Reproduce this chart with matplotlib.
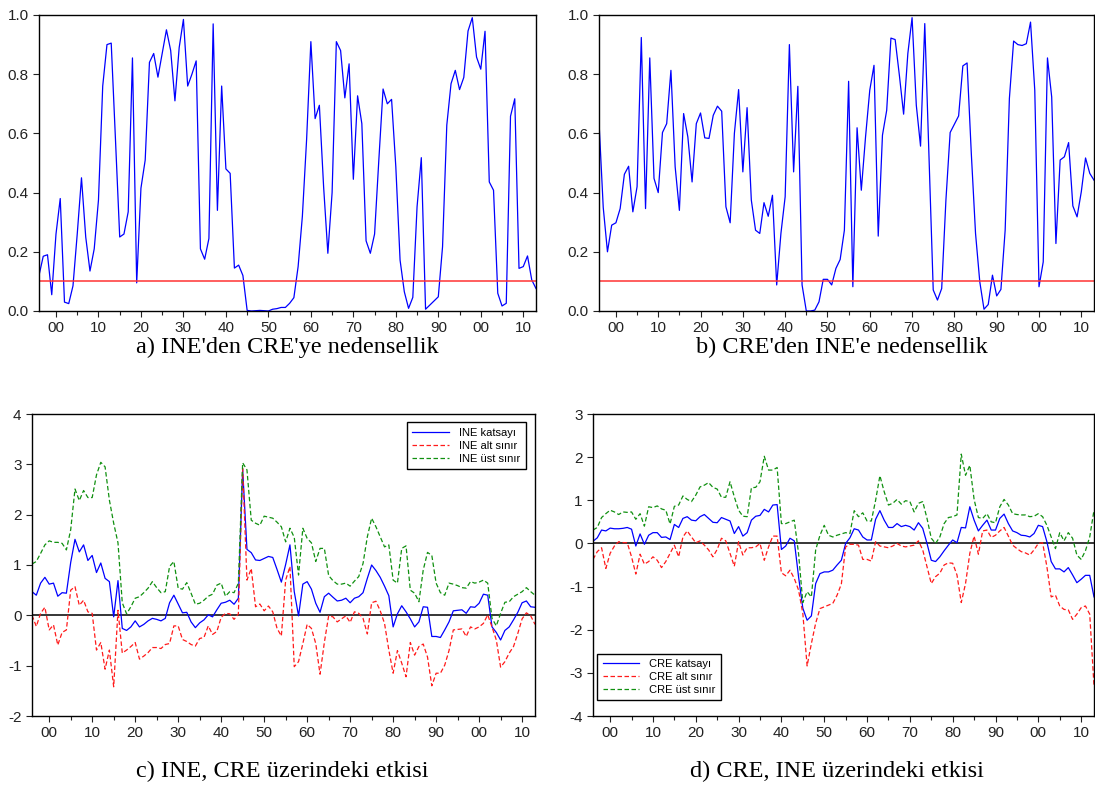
import matplotlib
matplotlib.use('Agg')
import matplotlib.pyplot as plt
import numpy as np
from matplotlib.ticker import MultipleLocator, FuncFormatter

years = np.arange(1896, 2014)

# rolling p-values of the causality tests
ine_to_cre = [
    0.12, 0.185, 0.19, 0.055, 0.26, 0.38, 0.03, 0.025, 0.085, 0.26,
    0.45, 0.25, 0.135, 0.21, 0.375, 0.76, 0.90, 0.905, 0.58, 0.25,
    0.26, 0.335, 0.855, 0.095, 0.415, 0.51, 0.84, 0.87, 0.79, 0.87,
    0.95, 0.88, 0.71, 0.89, 0.985, 0.76, 0.80, 0.845, 0.21, 0.175,
    0.245, 0.97, 0.34, 0.76, 0.48, 0.465, 0.145, 0.155, 0.12, 0.002,
    0.0, 0.001, 0.002, 0.001, 0.0, 0.006, 0.008, 0.012, 0.012, 0.026,
    0.045, 0.15, 0.32, 0.58, 0.91, 0.65, 0.695, 0.42, 0.195, 0.40,
    0.91, 0.88, 0.72, 0.835, 0.445, 0.727, 0.633, 0.237, 0.195, 0.26,
    0.51, 0.75, 0.70, 0.715, 0.487, 0.172, 0.065, 0.009, 0.046, 0.352,
    0.518, 0.006, 0.02, 0.034, 0.048, 0.217, 0.628, 0.768, 0.813, 0.748,
    0.789, 0.946, 0.991, 0.858, 0.817, 0.945, 0.436, 0.408, 0.06, 0.017,
    0.026, 0.658, 0.717, 0.144, 0.15, 0.186, 0.105, 0.076]

cre_to_ine = [
    0.64, 0.35, 0.20, 0.29, 0.298, 0.346, 0.462, 0.489, 0.335, 0.42,
    0.924, 0.346, 0.855, 0.448, 0.40, 0.603, 0.633, 0.813, 0.487, 0.34,
    0.667, 0.588, 0.436, 0.633, 0.669, 0.585, 0.583, 0.661, 0.692, 0.675,
    0.352, 0.298, 0.60, 0.748, 0.47, 0.687, 0.375, 0.273, 0.262, 0.366,
    0.32, 0.391, 0.088, 0.262, 0.386, 0.90, 0.47, 0.759, 0.088, 0.0,
    0.0, 0.003, 0.031, 0.107, 0.107, 0.088, 0.144, 0.174, 0.273, 0.776,
    0.082, 0.619, 0.408, 0.588, 0.746, 0.830, 0.253, 0.594, 0.678, 0.922,
    0.917, 0.796, 0.665, 0.870, 0.991, 0.695, 0.557, 0.971, 0.521, 0.071,
    0.037, 0.076, 0.375, 0.603, 0.631, 0.659, 0.828, 0.838, 0.532, 0.262,
    0.099, 0.006, 0.022, 0.121, 0.051, 0.073, 0.273, 0.718, 0.912, 0.900,
    0.897, 0.903, 0.976, 0.746, 0.082, 0.166, 0.855, 0.723, 0.228, 0.510,
    0.521, 0.569, 0.355, 0.318, 0.403, 0.517, 0.465, 0.442]

# time-varying coefficients with bands
ine_coef = [
    0.47, 0.40, 0.64, 0.755, 0.62, 0.64, 0.38, 0.45, 0.44, 1.05,
    1.51, 1.26, 1.40, 1.09, 1.19, 0.85, 1.04, 0.735, 0.67, -0.03,
    0.69, -0.26, -0.30, -0.23, -0.11, -0.23, -0.18, -0.11, -0.06, -0.08,
    -0.11, -0.06, 0.25, 0.40, 0.225, 0.05, 0.06, -0.13, -0.245, -0.15,
    -0.09, 0.01, -0.03, 0.11, 0.24, 0.26, 0.30, 0.22, 0.34, 2.9,
    1.31, 1.245, 1.10, 1.09, 1.13, 1.17, 1.15, 0.91, 0.66, 1.01,
    1.40, 0.47, -0.01, 0.62, 0.67, 0.52, 0.24, 0.06, 0.37, 0.44,
    0.36, 0.285, 0.30, 0.34, 0.25, 0.34, 0.37, 0.45, 0.735, 1.00,
    0.89, 0.755, 0.58, 0.39, -0.23, 0.03, 0.19, 0.07, -0.07, -0.23,
    -0.13, 0.17, 0.16, -0.42, -0.42, -0.44, -0.29, -0.13, 0.09, 0.10,
    0.11, 0.04, 0.17, 0.16, 0.24, 0.42, 0.40, -0.23, -0.34, -0.49,
    -0.30, -0.23, -0.09, 0.06, 0.25, 0.285, 0.17, 0.16]

ine_lower = [
    0.0, -0.22, 0.04, 0.16, -0.29, -0.19, -0.59, -0.34, -0.29, 0.50,
    0.57, 0.20, 0.30, 0.07, 0.04, -0.69, -0.54, -1.07, -0.69, -1.42,
    0.10, -0.75, -0.69, -0.62, -0.54, -0.87, -0.81, -0.74, -0.64, -0.64,
    -0.66, -0.58, -0.56, -0.21, -0.21, -0.48, -0.52, -0.58, -0.61, -0.46,
    -0.44, -0.21, -0.38, -0.32, -0.04, 0.04, 0.03, -0.08, 0.03, 2.92,
    0.70, 0.93, 0.17, 0.225, 0.09, 0.185, 0.07, -0.26, -0.41, 0.70,
    0.97, -1.02, -0.92, -0.56, -0.18, -0.26, -0.56, -1.17, -0.54, -0.01,
    -0.03, -0.13, -0.07, -0.01, -0.14, 0.07, 0.04, -0.06, -0.37, 0.25,
    0.28, 0.09, -0.16, -0.69, -1.15, -0.70, -0.95, -1.22, -0.54, -0.79,
    -0.62, -0.57, -0.83, -1.40, -1.15, -1.15, -0.99, -0.70, -0.29, -0.28,
    -0.27, -0.42, -0.23, -0.27, -0.23, -0.16, 0.01, -0.23, -0.49, -1.03,
    -0.92, -0.75, -0.62, -0.36, -0.07, 0.05, -0.01, -0.18]

ine_upper = [
    1.02, 1.07, 1.23, 1.40, 1.48, 1.45, 1.45, 1.43, 1.30, 1.70,
    2.51, 2.28, 2.48, 2.34, 2.34, 2.79, 3.04, 2.95, 2.29, 1.83,
    1.44, 0.25, 0.03, 0.17, 0.34, 0.37, 0.45, 0.54, 0.67, 0.55,
    0.45, 0.47, 0.97, 1.07, 0.54, 0.52, 0.65, 0.44, 0.22, 0.24,
    0.30, 0.38, 0.42, 0.60, 0.64, 0.38, 0.47, 0.45, 0.64, 3.03,
    2.89, 1.89, 1.83, 1.79, 1.97, 1.95, 1.93, 1.85, 1.76, 1.46,
    1.73, 1.55, 0.80, 1.73, 1.53, 1.44, 1.07, 1.33, 1.33, 0.79,
    0.69, 0.62, 0.62, 0.64, 0.58, 0.68, 0.77, 1.03, 1.56, 1.93,
    1.76, 1.56, 1.36, 1.40, 0.70, 0.64, 1.33, 1.38, 0.50, 0.44,
    0.27, 0.90, 1.25, 1.19, 0.64, 0.45, 0.40, 0.64, 0.62, 0.59,
    0.55, 0.54, 0.67, 0.64, 0.66, 0.70, 0.64, -0.06, -0.21, 0.04,
    0.26, 0.27, 0.37, 0.42, 0.47, 0.55, 0.47, 0.40]

cre_coef = [
    0.05, 0.13, 0.31, 0.29, 0.355, 0.34, 0.34, 0.35, 0.37, 0.33,
    -0.06, 0.22, -0.02, 0.19, 0.25, 0.25, 0.14, 0.15, 0.09, 0.44,
    0.37, 0.58, 0.62, 0.54, 0.525, 0.62, 0.67, 0.58, 0.49, 0.48,
    0.60, 0.56, 0.52, 0.23, 0.39, 0.17, 0.25, 0.54, 0.63, 0.65,
    0.79, 0.73, 0.89, 0.90, -0.14, -0.06, 0.12, 0.06, -0.77, -1.5,
    -1.78, -1.68, -0.93, -0.70, -0.66, -0.66, -0.62, -0.50, -0.39, 0.0,
    0.13, 0.34, 0.31, 0.15, 0.08, 0.08, 0.56, 0.76, 0.54, 0.37,
    0.37, 0.46, 0.39, 0.42, 0.39, 0.31, 0.48, 0.35, 0.0, -0.39,
    -0.42, -0.31, -0.17, -0.04, 0.08, 0.015, 0.37, 0.36, 0.85, 0.54,
    0.29, 0.42, 0.54, 0.31, 0.31, 0.58, 0.68, 0.46, 0.29, 0.25,
    0.19, 0.18, 0.15, 0.23, 0.42, 0.39, 0.04, -0.42, -0.59, -0.59,
    -0.66, -0.56, -0.73, -0.91, -0.83, -0.74, -0.74, -1.24]

cre_lower = [
    -0.37, -0.19, -0.10, -0.58, -0.23, -0.06, 0.04, 0.02, 0.015, -0.31,
    -0.71, -0.25, -0.48, -0.42, -0.31, -0.39, -0.56, -0.42, -0.23, -0.04,
    -0.31, 0.15, 0.29, 0.15, 0.015, 0.06, -0.04, -0.15, -0.31, -0.14,
    0.12, 0.06, -0.23, -0.53, 0.04, -0.27, -0.10, -0.10, -0.08, 0.0,
    -0.39, -0.08, 0.17, 0.17, -0.68, -0.75, -0.62, -0.81, -1.08, -1.62,
    -2.84, -2.32, -1.85, -1.51, -1.47, -1.43, -1.39, -1.20, -0.94, -0.08,
    -0.02, -0.02, -0.04, -0.37, -0.37, -0.41, 0.04, -0.06, -0.08, -0.10,
    -0.06, 0.0, -0.06, -0.08, -0.06, -0.04, 0.06, -0.15, -0.54, -0.93,
    -0.77, -0.69, -0.50, -0.45, -0.46, -0.73, -1.37, -0.93, -0.23, 0.17,
    -0.25, 0.29, 0.31, 0.14, 0.19, 0.29, 0.37, 0.17, -0.04, -0.12,
    -0.19, -0.22, -0.27, -0.15, 0.0, 0.015, -0.54, -1.24, -1.20, -1.45,
    -1.53, -1.54, -1.76, -1.64, -1.49, -1.45, -1.64, -3.30]

cre_upper = [
    0.31, 0.37, 0.60, 0.69, 0.77, 0.73, 0.67, 0.73, 0.72, 0.73,
    0.56, 0.69, 0.40, 0.85, 0.83, 0.87, 0.80, 0.77, 0.45, 0.86,
    0.89, 1.10, 1.02, 0.97, 1.12, 1.31, 1.35, 1.41, 1.30, 1.26,
    1.07, 1.07, 1.43, 1.08, 0.77, 0.63, 0.62, 1.29, 1.30, 1.43,
    2.02, 1.70, 1.70, 1.76, 0.46, 0.46, 0.50, 0.54, -0.23, -1.37,
    -1.12, -1.24, -0.15, 0.19, 0.42, 0.19, 0.15, 0.19, 0.22, 0.25,
    0.23, 0.76, 0.62, 0.71, 0.52, 0.52, 1.00, 1.57, 1.20, 0.89,
    0.93, 1.02, 0.91, 0.99, 0.97, 0.73, 0.93, 0.97, 0.58, 0.12,
    0.0, 0.15, 0.46, 0.60, 0.62, 0.66, 2.07, 1.58, 1.81, 1.02,
    0.60, 0.58, 0.69, 0.50, 0.48, 0.85, 1.02, 0.89, 0.69, 0.67,
    0.66, 0.66, 0.62, 0.63, 0.69, 0.62, 0.42, 0.15, -0.12, 0.25,
    0.06, 0.25, 0.12, -0.27, -0.37, -0.17, 0.15, 0.77]

captions = ["a) INE'den CRE'ye nedensellik", "b) CRE'den INE'e nedensellik",
            "c) INE, CRE üzerindeki etkisi", "d) CRE, INE üzerindeki etkisi"]

SANS = 'Liberation Sans'
SERIF = 'Liberation Serif'
DASH = (0, (3.6, 2.0))


def style_axis(ax, ymin, ymax, ystep, yfmt):
    ax.set_xlim(years[0], years[-1])
    ax.set_ylim(ymin, ymax)
    ax.xaxis.set_major_locator(MultipleLocator(10))
    ax.xaxis.set_minor_locator(MultipleLocator(5))
    ax.xaxis.set_major_formatter(FuncFormatter(lambda v, p: '%02d' % (int(round(v)) % 100)))
    ax.yaxis.set_major_locator(MultipleLocator(ystep))
    ax.yaxis.set_major_formatter(FuncFormatter(lambda v, p: yfmt % v))
    ax.tick_params(which='both', direction='out', top=False, right=False,
                   labelsize=11, width=0.8, colors='#222222')
    ax.tick_params(which='major', length=4)
    ax.tick_params(which='minor', length=3)
    for lbl in ax.get_xticklabels() + ax.get_yticklabels():
        lbl.set_fontfamily(SANS)
    for s in ax.spines.values():
        s.set_linewidth(1.0)
        s.set_color('black')


def main():
    fig = plt.figure(figsize=(10.95, 7.94), dpi=100)
    W, H = 1095.0, 794.0

    def box(x0, y0, x1, y1):
        return [x0 / W, 1 - y1 / H, (x1 - x0) / W, (y1 - y0) / H]

    ax_a = fig.add_axes(box(39, 15, 536, 311))
    ax_b = fig.add_axes(box(599, 15, 1094, 311))
    ax_c = fig.add_axes(box(32, 414, 535, 716))
    ax_d = fig.add_axes(box(593, 414, 1094, 716))

    # p-value panels with the 10% line
    for ax, pv in ((ax_a, ine_to_cre), (ax_b, cre_to_ine)):
        ax.plot(years, pv, color='blue', lw=0.9)
        ax.axhline(0.1, color='#ff3333', lw=1.1)
        style_axis(ax, 0.0, 1.0, 0.2, '%.1f')

    # coefficient panels with bands
    panels = ((ax_c, 'INE', ine_coef, ine_lower, ine_upper, -2, 4),
              (ax_d, 'CRE', cre_coef, cre_lower, cre_upper, -4, 3))
    for ax, name, coef, lo, hi, ymin, ymax in panels:
        ax.axhline(0, color='black', lw=1.1)
        ax.plot(years, coef, color='blue', lw=0.9, label=name + ' katsayı')
        ax.plot(years, lo, color='#ff1a1a', lw=0.9, linestyle=DASH, label=name + ' alt sınır')
        ax.plot(years, hi, color='#109010', lw=0.9, linestyle=DASH, label=name + ' üst sınır')
        style_axis(ax, ymin, ymax, 1, '%d')

    leg_kw = dict(handlelength=3.3, handletextpad=0.9, labelspacing=0.25,
                  borderpad=0.5, fancybox=False, framealpha=1, edgecolor='black',
                  prop={'family': SANS, 'size': 8})
    lc = ax_c.legend(loc='upper right', bbox_to_anchor=(0.982, 0.972), borderaxespad=0, **leg_kw)
    ld = ax_d.legend(loc='lower left', bbox_to_anchor=(0.008, 0.052), borderaxespad=0, **leg_kw)
    for lg in (lc, ld):
        lg.get_frame().set_linewidth(1.0)

    cap_pos = ((287, 347), (842, 347), (282, 771), (837, 771))
    for text, (x, y) in zip(captions, cap_pos):
        fig.text(x / W, 1 - y / H, text, ha='center', va='center',
                 fontsize=17.5, family=SERIF)

    fig.savefig('out.png', dpi=100, facecolor='white')


if __name__ == '__main__':
    main()
